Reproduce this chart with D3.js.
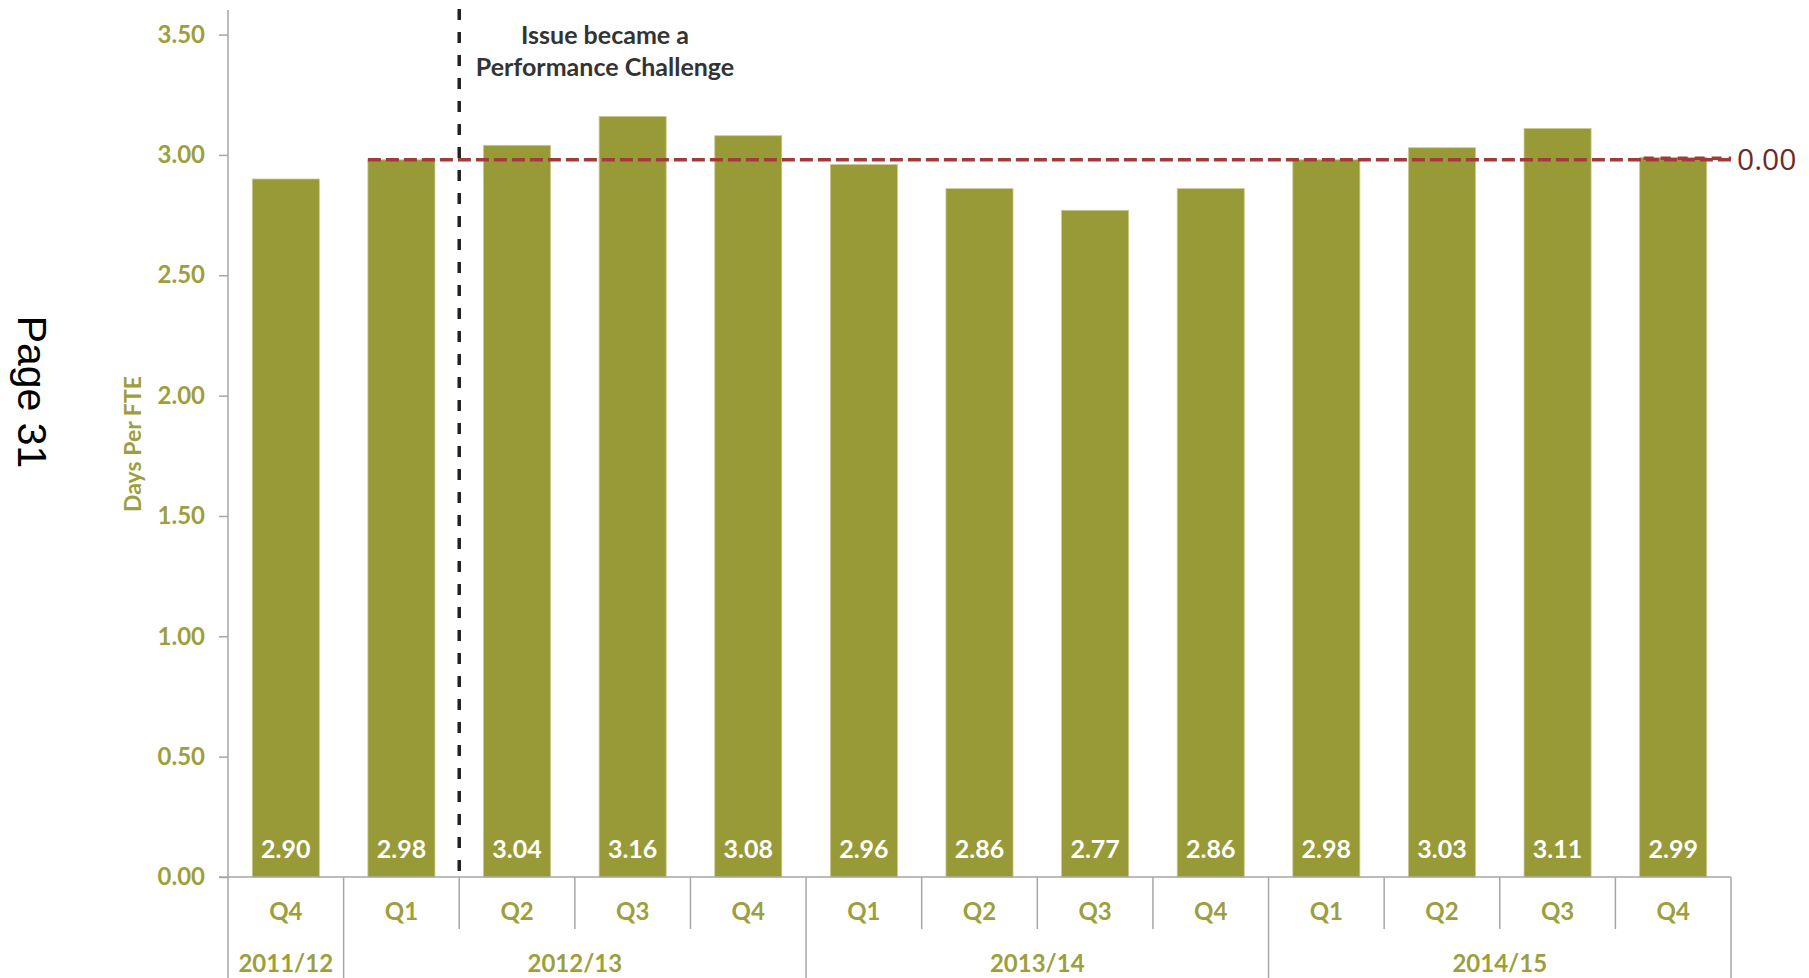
<!DOCTYPE html>
<html>
<head>
<meta charset="utf-8">
<script src="https://cdn.jsdelivr.net/npm/d3@7"></script>
<style>
  html, body { margin: 0; padding: 0; background: #ffffff; }
  svg { display: block; }
</style>
</head>
<body>
<svg id="chart" width="1809" height="978"></svg>
<script>
// ---------- data ----------
const quarters = ["Q4","Q1","Q2","Q3","Q4","Q1","Q2","Q3","Q4","Q1","Q2","Q3","Q4"];
const fiscalYears = ["2011/12","2012/13","2012/13","2012/13","2012/13","2013/14","2013/14","2013/14","2013/14","2014/15","2014/15","2014/15","2014/15"];
const daysPerFTE = [2.90, 2.98, 3.04, 3.16, 3.08, 2.96, 2.86, 2.77, 2.86, 2.98, 3.03, 3.11, 2.99];
const targetValue = [2.98];
const targetLabel = ["0.00"];
const yTicks = [0, 0.5, 1.0, 1.5, 2.0, 2.5, 3.0, 3.5];
const annotationLines = ["Issue became a", "Performance Challenge"];
const annotationIndex = 2; // performance challenge starts at this bar
const targetStartIndex = 1;

(function () {
// ---------- layout ----------
const W = 1809, H = 978;
const pLeft = 228, pRight = 1731, pTop = 34.6, pBottom = 877;
const olive = "#989a38";
const oliveText = "#9d9f3d";
const axisGrey = "#a6a6a6";
const font = "Lato, 'Open Sans', sans-serif";

const svg = d3.select("#chart");
const idx = d3.range(quarters.length);

const x = d3.scaleBand().domain(idx).range([pLeft, pRight]).paddingInner(0.42).paddingOuter(0.21);
const y = d3.scaleLinear().domain([0, 3.5]).range([pBottom, pTop]);
const step = x.step();
const gapHalf = (step - x.bandwidth()) / 2;
const boundary = i => x(i) - gapHalf; // left edge of category i

// bars
svg.append("g").selectAll("rect").data(daysPerFTE).join("rect")
  .attr("x", (d, i) => x(i))
  .attr("y", d => y(d))
  .attr("width", x.bandwidth())
  .attr("height", d => y(0) - y(d))
  .attr("fill", olive)
  .attr("stroke", "#c9ca8f")
  .attr("stroke-width", 0.8);

// bar value labels
svg.append("g").selectAll("text").data(daysPerFTE).join("text")
  .attr("x", (d, i) => x(i) + x.bandwidth() / 2)
  .attr("y", pBottom - 19)
  .attr("text-anchor", "middle")
  .attr("font-family", font)
  .attr("font-weight", "bold")
  .attr("font-size", 25)
  .attr("fill", "#ffffff")
  .text(d => d.toFixed(2));

// y axis
const yAxis = d3.axisLeft(y).tickValues(yTicks).tickFormat(d3.format(".2f")).tickSize(9).tickPadding(14);
const gy = svg.append("g").attr("transform", `translate(${pLeft},0)`).call(yAxis);
gy.select(".domain").remove();
gy.selectAll(".tick line").attr("stroke", axisGrey).attr("stroke-width", 1.5);
gy.selectAll(".tick text")
  .attr("font-family", font).attr("font-weight", "bold").attr("font-size", 24)
  .attr("fill", oliveText);

// y axis line (extends through category area)
svg.append("line").attr("x1", pLeft).attr("x2", pLeft).attr("y1", 10).attr("y2", H)
  .attr("stroke", axisGrey).attr("stroke-width", 1.5);

// baseline
svg.append("line").attr("x1", pLeft - 9).attr("x2", pRight).attr("y1", pBottom).attr("y2", pBottom)
  .attr("stroke", axisGrey).attr("stroke-width", 1.5);

// category separators
const sepIdx = d3.range(1, quarters.length + 1);
svg.append("g").selectAll("line").data(sepIdx).join("line")
  .attr("x1", i => i < quarters.length ? boundary(i) : pRight)
  .attr("x2", i => i < quarters.length ? boundary(i) : pRight)
  .attr("y1", pBottom)
  .attr("y2", i => (i === quarters.length || fiscalYears[i] !== fiscalYears[i - 1]) ? H : 929)
  .attr("stroke", axisGrey).attr("stroke-width", 1.5);

// quarter labels
svg.append("g").selectAll("text").data(quarters).join("text")
  .attr("x", (d, i) => x(i) + x.bandwidth() / 2)
  .attr("y", 920)
  .attr("text-anchor", "middle")
  .attr("font-family", font).attr("font-weight", "bold").attr("font-size", 24)
  .attr("fill", oliveText)
  .text(d => d);

// year labels
const yearGroups = [];
fiscalYears.forEach((fy, i) => {
  const g = yearGroups[yearGroups.length - 1];
  if (g && g.name === fy) g.end = i; else yearGroups.push({ name: fy, start: i, end: i });
});
svg.append("g").selectAll("text").data(yearGroups).join("text")
  .attr("x", g => (boundary(g.start) + (g.end + 1 < quarters.length ? boundary(g.end + 1) : pRight)) / 2)
  .attr("y", 972)
  .attr("text-anchor", "middle")
  .attr("font-family", font).attr("font-weight", "bold").attr("font-size", 24)
  .attr("fill", oliveText)
  .text(g => g.name);

// target line
const ty = y(targetValue[0]);
svg.append("line")
  .attr("x1", x(targetStartIndex)).attr("x2", pRight)
  .attr("y1", ty).attr("y2", ty)
  .attr("stroke", "#a23a3a").attr("stroke-width", 3.5)
  .attr("stroke-dasharray", "13,5");
// overlap on last bar
const last = quarters.length - 1;
svg.append("line")
  .attr("x1", x(last) + 4).attr("x2", pRight)
  .attr("y1", ty - 1.5).attr("y2", ty - 1.5)
  .attr("stroke", "#a23a3a").attr("stroke-width", 3.5)
  .attr("stroke-dasharray", "10,7");
svg.append("text")
  .attr("x", pRight + 6).attr("y", ty + 10)
  .attr("font-family", "'Open Sans', sans-serif").attr("font-size", 30)
  .attr("fill", "#6e2a2a")
  .text(targetLabel[0]);

// performance challenge marker
const ax = boundary(annotationIndex);
svg.append("line")
  .attr("x1", ax).attr("x2", ax).attr("y1", 9).attr("y2", pBottom)
  .attr("stroke", "#222222").attr("stroke-width", 3.5)
  .attr("stroke-dasharray", "11,12");
svg.append("g").selectAll("text").data(annotationLines).join("text")
  .attr("x", 605)
  .attr("y", (d, i) => 44 + i * 32)
  .attr("text-anchor", "middle")
  .attr("font-family", font).attr("font-weight", "bold").attr("font-size", 25)
  .attr("fill", "#333333")
  .text(d => d);

// y-axis title
svg.append("text")
  .attr("transform", `translate(141,444) rotate(-90)`)
  .attr("text-anchor", "middle")
  .attr("font-family", font).attr("font-weight", "bold").attr("font-size", 23)
  .attr("fill", oliveText)
  .text("Days Per FTE");

// page number
svg.append("text")
  .attr("transform", `translate(18,392) rotate(90)`)
  .attr("text-anchor", "middle")
  .attr("font-family", "'Liberation Sans', Arial, sans-serif").attr("font-size", 41)
  .attr("fill", "#000000")
  .text("Page 31");
})();
</script>
</body>
</html>
